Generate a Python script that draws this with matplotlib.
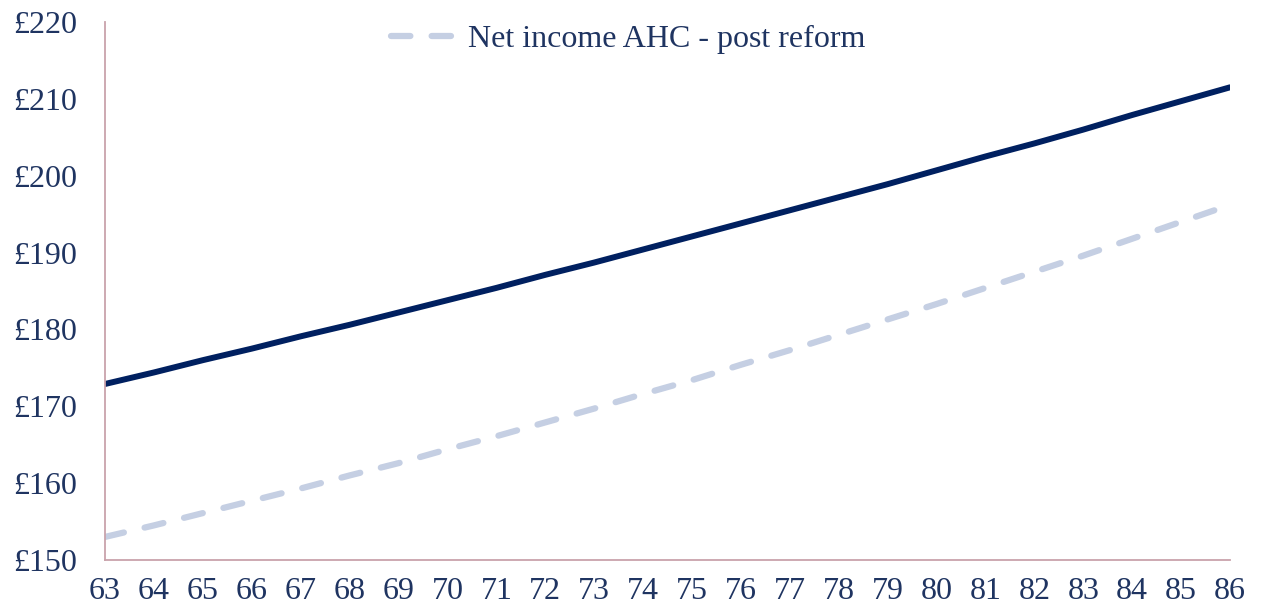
import matplotlib
matplotlib.use("Agg")
import matplotlib.pyplot as plt

# Ages on the x axis
ages = list(range(63, 87))

# Net income AHC, pre reform (solid) and post reform (dashed), £ per week
net_income_pre = [172.9, 174.4, 176.0, 177.5, 179.1, 180.6, 182.2, 183.8,
                  185.4, 187.1, 188.7, 190.4, 192.1, 193.8, 195.5, 197.2,
                  198.9, 200.7, 202.5, 204.2, 206.0, 207.9, 209.7, 211.5]
net_income_post = [153.0, 154.5, 156.1, 157.7, 159.3, 161.0, 162.6, 164.4,
                   166.1, 167.9, 169.7, 171.6, 173.4, 175.4, 177.3, 179.3,
                   181.3, 183.3, 185.4, 187.5, 189.6, 191.8, 194.0, 196.2]

y_ticks = [150, 160, 170, 180, 190, 200, 210, 220]

navy = "#002060"
light = "#c5cfe3"
text_col = "#1f3461"
spine_col = "#c9a3ab"

plt.rcParams["font.family"] = ["Liberation Serif", "DejaVu Serif"]

fig = plt.figure(figsize=(12.64, 6.11), dpi=100)
ax = fig.add_axes([0.0831, 0.0835, 0.8900, 0.8805])

ax.plot(ages, net_income_pre, color=navy, lw=4.3, solid_capstyle="round",
        label="_nolegend_")
ax.plot(ages, net_income_post, color=light, lw=4.5, dashes=(3.1, 3.4),
        dash_capstyle="round", label="Net income AHC - post reform")

ax.set_xlim(63, 86)
ax.set_ylim(150, 220)
ax.set_xticks(ages)
ax.set_yticks(y_ticks)
ax.set_yticklabels([f"£{v}" for v in y_ticks])

for s in ["top", "right"]:
    ax.spines[s].set_visible(False)
for s in ["left", "bottom"]:
    ax.spines[s].set_color(spine_col)
    ax.spines[s].set_linewidth(1.3)

ax.tick_params(axis="both", length=0, labelsize=23, labelcolor=text_col)
ax.tick_params(axis="y", pad=20)
ax.tick_params(axis="x", pad=12)

leg = ax.legend(loc="center", bbox_to_anchor=(0.497, 0.935),
                bbox_transform=fig.transFigure, frameon=False,
                fontsize=23, handlelength=2.0, handletextpad=0.4)
for t in leg.get_texts():
    t.set_color(text_col)

fig.savefig("out.png", dpi=100)
